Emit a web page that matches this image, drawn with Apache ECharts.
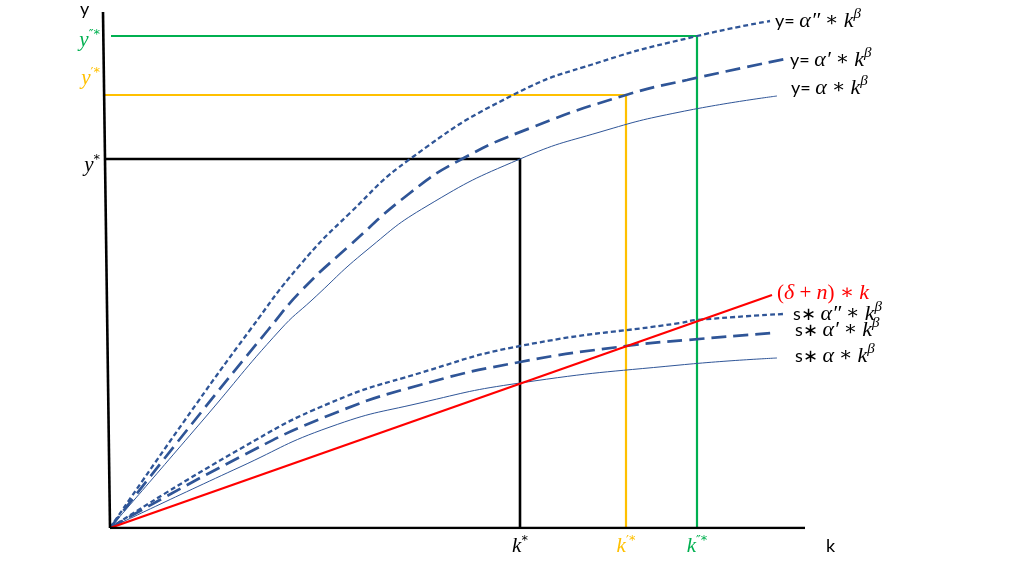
<!DOCTYPE html>
<html><head><meta charset="utf-8">
<script src="https://cdn.jsdelivr.net/npm/echarts@6/dist/echarts.min.js"></script>
<style>html,body{margin:0;padding:0;background:#fff;}#chart{width:1024px;height:576px;}</style>
</head><body><div id="chart"></div>
<script>
// Steady states (k*, k'*, k''*) and (y*, y'*, y''*)
const kSteady = [410, 516, 587];
const ySteady = [369, 433, 492];
const steadyStartK = [-5, -5, 1];
const primes = ['', '′', '″'];
const steadyColors = ['#000000', '#FFC000', '#00B050'];

// production curves y = α k^β, α' k^β, α'' k^β  ([k, y])
const prodAlpha   = [[0,0],[93,108],[170,198],[202,228],[257,278],[317,322],[410,369],[490,396],[570,416],[667,432]];
const prodAlphaP  = [[0,0],[85,108],[158,198],[192,238],[238,281],[300,335],[350,368],[423,401],[516,433],[577,448],[675,469]];
const prodAlphaPP = [[0,0],[75,108],[140,198],[190,263],[240,315],[300,369],[403,433],[490,466],[587,492],[660,507]];
// savings curves s α k^β ...
const savAlpha    = [[0,0],[130,61],[220,101],[310,125],[410,145],[570,163],[667,170]];
const savAlphaP   = [[0,0],[130,71],[220,113],[310,143],[410,166],[516,182],[577,188],[663,195]];
const savAlphaPP  = [[0,0],[130,79],[220,125],[310,155],[410,182],[570,205],[587,208],[673,214]];
// break-even line (δ + n) k
const breakEven   = [[0,0],[662,233]];
// axes
const axisK = [[0,0],[695,0]];
const axisY = [[-7,516],[0,0]];

const sans = 'Lato, "Open Sans", sans-serif';
const math = '"Liberation Serif", "DejaVu Serif", serif';
const blue = '#2F5597';

const labelRich = {
  s:   {fontFamily: sans, fontSize: 18, color: '#000', lineHeight: 28},
  m:   {fontFamily: math, fontStyle: 'italic', fontSize: 22, color: '#000', lineHeight: 28},
  o:   {fontFamily: math, fontSize: 20, color: '#000', lineHeight: 28},
  sup: {fontFamily: math, fontStyle: 'italic', fontSize: 15, color: '#000', lineHeight: 14, verticalAlign: 'top'},
  rm:  {fontFamily: math, fontStyle: 'italic', fontSize: 22, color: '#FF0000', lineHeight: 28},
  ro:  {fontFamily: math, fontSize: 21, color: '#FF0000', lineHeight: 28}
};

function curve(data, width, dash, label, dist, offset, color) {
  return {
    type: 'line', data, smooth: 0.5, symbol: 'none', silent: true, z: 3,
    lineStyle: {color: color || blue, width, type: dash, cap: 'butt'},
    endLabel: {show: true, formatter: label, rich: labelRich, distance: dist, offset}
  };
}

const series = [];
steadyColors.forEach((c, i) => {
  series.push({
    type: 'line', symbol: 'none', silent: true, z: 2,
    data: [[steadyStartK[i], ySteady[i]], [kSteady[i], ySteady[i]], [kSteady[i], 0]],
    lineStyle: {color: c, width: i === 0 ? 2.6 : 2.2}
  });
});
series.push(curve(prodAlphaPP, 2.3, [5, 3], '{s|y= }{m|α″}{o| ∗ }{m|k}{sup|β}', 5, [0, 0]));
series.push(curve(prodAlphaP, 2.7, [15, 7], '{s|y= }{m|α′}{o| ∗ }{m|k}{sup|β}', 5, [0, 1]));
series.push(curve(prodAlpha, 1, 'solid', '{s|y= }{m|α}{o| ∗ }{m|k}{sup|β}', 14, [0, -8]));
series.push(curve(savAlphaPP, 2.3, [5, 3], '{s|s∗ }{m|α″}{o| ∗ }{m|k}{sup|β}', 10, [0, 0]));
series.push(curve(savAlphaP, 2.7, [15, 7], '{s|s∗ }{m|α′}{o| ∗ }{m|k}{sup|β}', 22, [0, -3]));
series.push(curve(savAlpha, 1, 'solid', '{s|s∗ }{m|α}{o| ∗ }{m|k}{sup|β}', 18, [0, -2]));
series.push(curve(breakEven, 2.2, 'solid', '{ro|(}{rm|δ}{ro| + }{rm|n}{ro|) ∗ }{rm|k}', 5, [0, -2], '#FF0000'));
series.push({type: 'line', symbol: 'none', silent: true, z: 4, data: axisK, lineStyle: {color: '#000', width: 2.6}});
series.push({type: 'line', symbol: 'none', silent: true, z: 4, data: axisY, lineStyle: {color: '#000', width: 2.6}});

// tick label styles
const tickRich = {gap8: {lineHeight: 8, fontSize: 1}, gap12: {lineHeight: 12, fontSize: 1}, gap34: {lineHeight: 34, fontSize: 1}};
steadyColors.forEach((c, i) => {
  tickRich['t' + i] = {fontFamily: math, fontStyle: 'italic', fontSize: 21, color: c, lineHeight: 24};
  tickRich['st' + i] = {fontFamily: 'DejaVu Sans', fontSize: 13, color: c, lineHeight: 12, verticalAlign: 'top'};
});
function tickText(letter, i) {
  return '{t' + i + '|' + letter + '}{st' + i + '|' + primes[i] + '*}';
}
const yWrap = [
  s => '{gap12| }\n' + s,
  s => s + '\n{gap34| }',
  s => '{gap8| }\n' + s
];

const option = {
  animation: false,
  backgroundColor: '#fff',
  grid: {left: 100, top: 12, width: 710, height: 516},
  graphic: [{type: 'text', left: 80, top: 0, silent: true,
    style: {text: 'y', fontFamily: sans, fontSize: 18, fill: '#000'}}],
  xAxis: {
    type: 'value', min: -10, max: 700,
    name: 'k', nameLocation: 'end', nameGap: 16,
    nameTextStyle: {fontFamily: sans, fontSize: 18, color: '#000', verticalAlign: 'top', lineHeight: 36},
    axisLine: {show: false}, axisTick: {show: false}, splitLine: {show: false},
    axisLabel: {
      customValues: kSteady, margin: 6, rich: tickRich,
      formatter: v => { const i = kSteady.indexOf(v); return tickText('k', i); }
    }
  },
  yAxis: {
    type: 'value', min: 0, max: 516,
    axisLine: {show: false}, axisTick: {show: false}, splitLine: {show: false},
    axisLabel: {
      customValues: ySteady, margin: 0, rich: tickRich,
      formatter: v => { const i = ySteady.indexOf(v); return yWrap[i](tickText('y', i)); }
    }
  },
  series
};
const chart = echarts.init(document.getElementById('chart'), null, {renderer: 'canvas'});
chart.setOption(option);
</script>
</body></html>
